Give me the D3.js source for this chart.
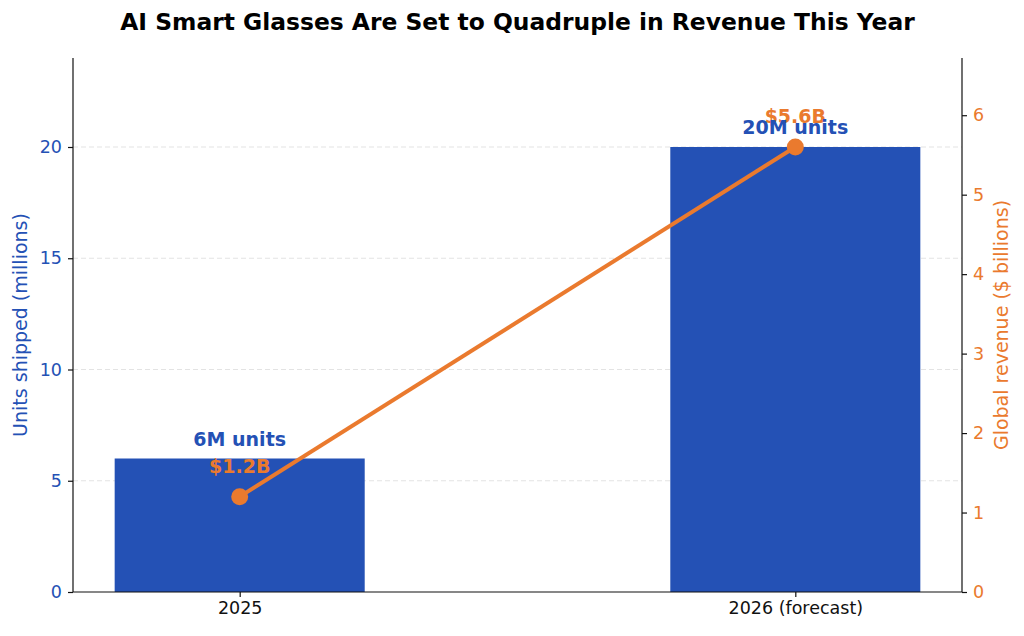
<!DOCTYPE html>
<html>
<head>
<meta charset="utf-8">
<script src="https://cdn.jsdelivr.net/npm/d3@7"></script>
<style>
  body { margin: 0; background: #fff; }
  svg { display: block; font-family: "DejaVu Sans", sans-serif; }
</style>
</head>
<body>
<svg id="chart" width="1024" height="636"></svg>
<script>
// data
const categories = ["2025", "2026 (forecast)"];
const units = [6, 20];          // millions
const revenue = [1.2, 5.6];     // $ billions
const unitLabels = ["6M units", "20M units"];
const revenueLabels = ["$1.2B", "$5.6B"];
const leftTicks = [0, 5, 10, 15, 20];
const rightTicks = [0, 1, 2, 3, 4, 5, 6];

const blue = "#2451b5";
const orange = "#ea7a2e";
const tickSize = 17.5;
const labelSize = 19;

const svg = d3.select("#chart");
const margin = { top: 58, right: 62, bottom: 44, left: 73 };
const W = 1024, H = 636;
const w = W - margin.left - margin.right;
const h = H - margin.top - margin.bottom;

// category index space, matplotlib style xlim -0.3..1.3
const x = d3.scaleLinear().domain([-0.3, 1.3]).range([0, w]);
const barW = x(0.45) - x(0);
const yL = d3.scaleLinear().domain([0, d3.max(units) * 1.2]).range([h, 0]);
const yR = d3.scaleLinear().domain([0, d3.max(revenue) * 1.2]).range([h, 0]);

const g = svg.append("g").attr("transform", `translate(${margin.left},${margin.top})`);

// title
svg.append("text")
  .attr("x", margin.left + w / 2).attr("y", 30)
  .attr("text-anchor", "middle")
  .attr("font-size", 23.4).attr("font-weight", "bold")
  .text("AI Smart Glasses Are Set to Quadruple in Revenue This Year");

// grid
g.append("g").selectAll("line")
  .data(leftTicks.filter(d => d > 0))
  .join("line")
  .attr("x1", 0).attr("x2", w)
  .attr("y1", d => yL(d)).attr("y2", d => yL(d))
  .attr("stroke", "#e3e3e3").attr("stroke-width", 1)
  .attr("stroke-dasharray", "5,3");

// bars
g.append("g").selectAll("rect")
  .data(units)
  .join("rect")
  .attr("x", (d, i) => x(i) - barW / 2)
  .attr("width", barW)
  .attr("y", d => yL(d))
  .attr("height", d => h - yL(d))
  .attr("fill", blue);

// axes
const axL = g.append("g")
  .call(d3.axisLeft(yL).tickValues(leftTicks).tickSize(5).tickPadding(6));
axL.selectAll("text").attr("fill", blue).attr("font-size", tickSize);

const axR = g.append("g").attr("transform", `translate(${w},0)`)
  .call(d3.axisRight(yR).tickValues(rightTicks).tickFormat(d3.format("d")).tickSize(5).tickPadding(6));
axR.selectAll("text").attr("fill", orange).attr("font-size", tickSize);

const axB = g.append("g").attr("transform", `translate(0,${h})`)
  .call(d3.axisBottom(x).tickValues([0, 1]).tickFormat(i => categories[i]).tickSize(5).tickPadding(5));
axB.selectAll("text").attr("fill", "#111").attr("font-size", tickSize);

[axL, axR, axB].forEach(a => {
  a.select(".domain").attr("stroke", "#111").attr("stroke-width", 1.2);
  a.selectAll(".tick line").attr("stroke", "#111").attr("stroke-width", 1.2);
  a.attr("font-family", "DejaVu Sans, sans-serif");
});
// drop the end caps d3 draws on the domain paths
axL.select(".domain").attr("d", `M0,0V${h}`);
axR.select(".domain").attr("d", `M0,0V${h}`);
axB.select(".domain").attr("d", `M0,0H${w}`);

// axis titles
svg.append("text")
  .attr("transform", `translate(27,${margin.top + h / 2}) rotate(-90)`)
  .attr("text-anchor", "middle").attr("font-size", labelSize).attr("fill", blue)
  .text("Units shipped (millions)");
svg.append("text")
  .attr("transform", `translate(1008,${margin.top + h / 2}) rotate(-90)`)
  .attr("text-anchor", "middle").attr("font-size", labelSize).attr("fill", orange)
  .text("Global revenue ($ billions)");

// revenue line + markers
const line = d3.line().x((d, i) => x(i)).y(d => yR(d));
g.append("path")
  .datum(revenue)
  .attr("d", line)
  .attr("fill", "none")
  .attr("stroke", orange).attr("stroke-width", 4);
g.append("g").selectAll("circle")
  .data(revenue)
  .join("circle")
  .attr("cx", (d, i) => x(i)).attr("cy", d => yR(d))
  .attr("r", 8.5).attr("fill", orange);

// revenue labels
g.append("g").selectAll("text")
  .data(revenue)
  .join("text")
  .attr("x", (d, i) => x(i)).attr("y", d => yR(d) - 24)
  .attr("text-anchor", "middle")
  .attr("font-size", labelSize).attr("font-weight", "bold").attr("fill", orange)
  .text((d, i) => revenueLabels[i]);

// unit labels
g.append("g").selectAll("text")
  .data(units)
  .join("text")
  .attr("x", (d, i) => x(i)).attr("y", d => yL(d) - 13)
  .attr("text-anchor", "middle")
  .attr("font-size", labelSize).attr("font-weight", "bold").attr("fill", blue)
  .text((d, i) => unitLabels[i]);
</script>
</body>
</html>
